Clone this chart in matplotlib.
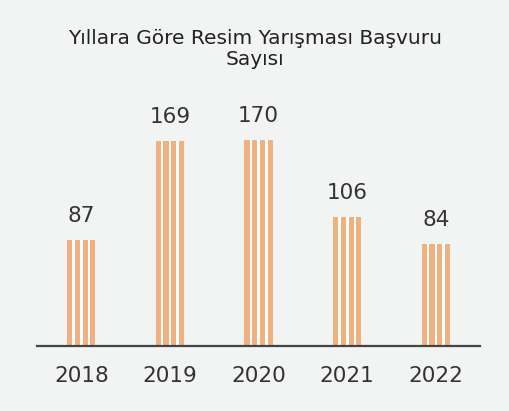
import matplotlib
matplotlib.use("Agg")
import matplotlib.pyplot as plt

years = ["2018", "2019", "2020", "2021", "2022"]
values = [87, 169, 170, 106, 84]

bg = "#F2F4F3"
orange = "#F0B07F"

fig = plt.figure(figsize=(5.10, 4.11), dpi=100, facecolor=bg)
ax = fig.add_axes([0.0725, 0.158, 0.869, 0.60], facecolor=bg)

x = list(range(len(years)))
bar_w = 0.32
n_str = 4
str_w = 0.058
gap = (bar_w - n_str * str_w) / (n_str - 1)

ax.bar(x, values, width=bar_w, color="white", linewidth=0, zorder=1)
for k in range(n_str):
    off = -bar_w / 2 + str_w / 2 + k * (str_w + gap)
    ax.bar([xi + off for xi in x], values, width=str_w, color=orange,
           linewidth=0, zorder=2)

for xi, v in zip(x, values):
    ax.annotate(str(v), (xi, v), xytext=(0, 10), textcoords="offset points",
                ha="center", va="bottom", fontsize=15.5, color="#333333",
                family="DejaVu Sans")

ax.set_xlim(-0.5, 4.5)
ax.set_ylim(0, 203)
ax.set_xticks(x)
ax.set_xticklabels(years, fontsize=15.5, color="#333333")
ax.tick_params(axis="x", length=0, pad=14)
ax.set_yticks([])
for s in ["top", "right", "left"]:
    ax.spines[s].set_visible(False)
ax.spines["bottom"].set_color("#444444")
ax.spines["bottom"].set_linewidth(1.6)
ax.spines["bottom"].set_zorder(5)

fig.text(0.5, 0.881, "Yıllara Göre Resim Yarışması Başvuru\nSayısı", ha="center",
         va="center", fontsize=14.5, color="#222222", linespacing=1.15,
         family="DejaVu Sans")

fig.savefig("out.png", dpi=100, facecolor=bg)
